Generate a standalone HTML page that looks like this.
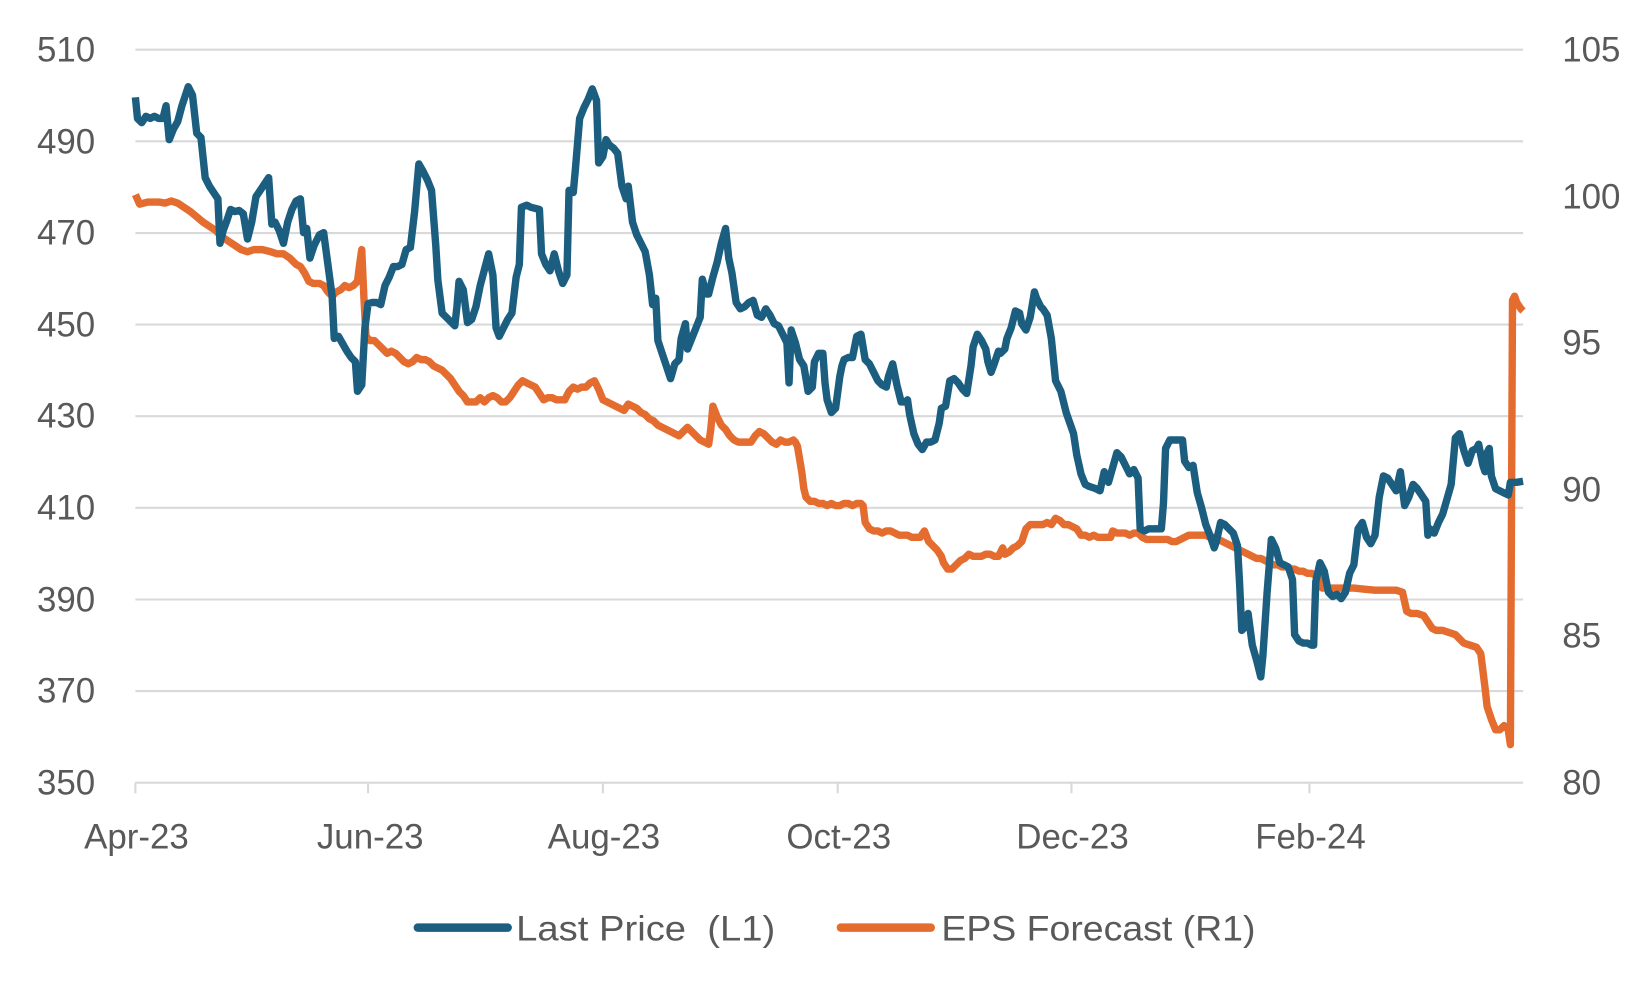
<!DOCTYPE html>
<html><head><meta charset="utf-8"><style>
html,body{margin:0;padding:0;background:#fff;width:1650px;height:990px;overflow:hidden}
svg text{font-family:"Liberation Sans",Arial,sans-serif;fill:#595959;font-size:33px}
</style></head><body>
<svg width="1650" height="990" viewBox="0 0 1560 936" xmlns="http://www.w3.org/2000/svg">
<g stroke="#d9d9d9" stroke-width="2">
<line x1="128" x2="1440" y1="47" y2="47"/><line x1="128" x2="1440" y1="133.6" y2="133.6"/>
<line x1="128" x2="1440" y1="220.3" y2="220.3"/><line x1="128" x2="1440" y1="306.9" y2="306.9"/>
<line x1="128" x2="1440" y1="393.5" y2="393.5"/><line x1="128" x2="1440" y1="480.1" y2="480.1"/>
<line x1="128" x2="1440" y1="566.8" y2="566.8"/><line x1="128" x2="1440" y1="653.4" y2="653.4"/>
<line x1="128" x2="1440" y1="740" y2="740"/>
<line x1="128" x2="128" y1="740" y2="750"/><line x1="348" x2="348" y1="740" y2="750"/>
<line x1="570" x2="570" y1="740" y2="750"/><line x1="792" x2="792" y1="740" y2="750"/>
<line x1="1013" x2="1013" y1="740" y2="750"/><line x1="1238" x2="1238" y1="740" y2="750"/>
</g>
<g text-anchor="end">
<text x="90" y="58">510</text><text x="90" y="145">490</text><text x="90" y="231">470</text>
<text x="90" y="318">450</text><text x="90" y="404">430</text><text x="90" y="491">410</text>
<text x="90" y="578">390</text><text x="90" y="664">370</text><text x="90" y="751">350</text>
</g>
<g>
<text x="1477" y="58">105</text><text x="1477" y="197">100</text><text x="1477" y="335">95</text>
<text x="1477" y="474">90</text><text x="1477" y="612">85</text><text x="1477" y="751">80</text>
</g>
<g text-anchor="middle">
<text x="129" y="802">Apr-23</text><text x="350" y="802">Jun-23</text><text x="571" y="802">Aug-23</text>
<text x="793" y="802">Oct-23</text><text x="1014" y="802">Dec-23</text><text x="1239" y="802">Feb-24</text>
</g>
<polyline fill="none" stroke="#e46c2f" stroke-width="7" stroke-linejoin="round" points="128,184 132,193 136,192 140,191 150,191 156,192 162,190 168,192 174,196 180,200 186,205 192,210 198,214 204,218 210,224 216,228 222,232 228,236 234,238 240,236 248,236 256,238 262,240 268,240 274,244 280,250 284,252 288,258 292,266 296,268 302,268 306,270 310,276 314,280 318,276 322,274 326,270 330,272 334,270 338,266 340,250 342,236 344,280 346,318 350,322 354,322 358,326 362,330 366,334 370,332 374,334 378,338 382,342 386,344 390,342 394,338 398,340 402,340 406,342 410,346 414,348 418,350 422,354 426,358 430,364 434,370 438,374 442,380 446,380 450,380 454,376 458,380 462,376 466,374 470,376 474,380 478,380 482,376 486,370 490,364 494,360 498,362 502,364 506,366 510,372 514,378 518,376 522,376 526,378 530,378 534,378 538,370 542,366 546,368 550,366 554,366 558,362 562,360 566,368 570,378 574,380 578,382 582,384 586,386 590,388 594,382 598,384 602,386 606,390 610,392 614,396 618,398 622,402 626,404 630,406 634,408 638,410 642,412 646,408 650,404 654,408 658,412 662,416 666,418 670,420 672,406 674,384 678,394 682,402 686,406 690,412 694,416 698,418 702,418 706,418 710,418 714,412 718,408 722,410 726,414 730,418 734,420 738,416 742,418 746,418 750,416 752,418 754,422 758,446 760,462 762,470 766,474 770,474 774,476 778,476 782,478 786,476 790,478 794,478 798,476 802,476 806,478 810,476 814,476 816,478 818,494 822,500 826,502 830,502 834,504 838,502 842,502 846,504 850,506 854,506 858,506 862,508 866,508 870,508 874,502 878,512 882,516 886,520 890,526 892,532 896,538 900,538 904,534 908,530 912,528 916,524 920,526 924,526 928,526 932,524 936,524 940,526 944,526 948,518 950,524 954,522 958,518 962,516 966,512 970,500 974,496 978,496 982,496 986,496 990,494 994,496 998,490 1002,492 1006,496 1010,496 1014,498 1018,500 1022,506 1026,506 1030,508 1034,506 1038,508 1042,508 1046,508 1050,508 1052,502 1056,504 1060,504 1064,504 1068,506 1072,504 1076,504 1080,508 1084,510 1088,510 1092,510 1096,510 1100,510 1104,510 1108,512 1112,512 1116,510 1120,508 1124,506 1128,506 1132,506 1136,506 1140,506 1144,508 1148,508 1152,510 1156,512 1160,514 1164,516 1168,518 1172,520 1176,522 1180,524 1184,526 1188,528 1192,528 1196,530 1200,532 1204,534 1208,534 1212,536 1216,536 1220,538 1224,538 1228,540 1232,540 1236,542 1240,542 1244,544 1248,544 1250,556 1254,556 1260,556 1270,556 1280,556 1290,557 1300,558 1310,558 1320,558 1326,560 1330,578 1334,580 1340,580 1346,582 1350,588 1354,594 1358,596 1364,596 1370,598 1376,600 1380,604 1384,608 1390,610 1396,612 1400,618 1404,650 1406,668 1410,680 1414,690 1418,690 1422,686 1426,690 1428,704 1430,284 1432,280 1434,286 1438,292 1440,294"/>
<polyline fill="none" stroke="#1b5e80" stroke-width="7" stroke-linejoin="round" points="128,92 130,112 134,116 138,110 142,112 146,110 150,112 154,112 157,100 160,132 164,122 168,115 172,100 178,82 182,90 186,126 190,130 194,168 198,176 202,182 206,188 208,230 211,218 214,210 218,198 222,200 226,199 230,202 234,226 238,210 242,186 246,180 250,174 254,168 257,212 260,210 264,218 268,230 272,210 276,198 280,190 284,188 287,220 290,216 293,244 297,232 302,222 306,220 310,250 314,280 316,320 320,318 324,325 328,332 332,338 336,342 338,370 342,364 345,310 348,287 352,286 356,286 360,288 364,270 368,262 372,252 376,252 380,250 384,236 388,234 392,200 396,155 400,162 404,170 408,180 412,232 414,265 418,296 422,300 426,304 430,308 432,290 434,266 438,274 442,305 446,302 450,290 454,270 458,255 462,240 466,260 469,310 472,318 476,310 480,302 484,296 488,262 491,250 493,196 498,194 502,196 506,197 510,198 512,240 516,250 520,256 524,240 528,256 532,268 536,260 538,180 542,182 544,160 548,112 552,102 556,94 560,84 564,95 566,154 570,148 573,132 576,137 580,140 584,145 588,176 592,188 594,176 598,210 602,222 606,230 610,238 614,260 617,288 620,282 622,322 626,334 630,346 634,358 638,344 642,340 644,320 648,306 650,330 654,320 658,310 662,300 664,264 668,278 670,278 674,262 678,248 682,230 686,216 689,244 692,258 696,286 700,292 704,290 708,286 712,284 716,298 720,300 724,292 728,298 732,306 736,308 740,316 744,324 746,362 748,312 752,324 756,340 760,346 764,370 766,368 768,366 770,342 774,334 778,334 780,362 782,378 786,390 790,386 794,356 796,346 798,340 802,338 806,338 810,318 814,316 818,340 822,344 826,352 830,360 834,364 838,366 840,356 844,344 848,364 852,380 856,380 858,378 860,392 864,410 868,420 872,425 876,418 880,418 884,416 888,400 890,386 894,384 898,360 902,358 906,362 910,368 914,372 918,346 920,328 924,316 928,322 932,330 934,342 937,352 940,344 944,332 946,334 950,330 952,320 956,310 960,294 964,296 966,306 970,312 974,300 978,276 980,282 982,286 984,290 986,292 990,298 994,320 998,360 1003,370 1008,390 1015,410 1018,430 1022,448 1026,458 1030,460 1036,462 1040,464 1044,446 1048,456 1052,442 1056,428 1060,432 1064,440 1068,448 1072,444 1076,452 1078,500 1082,502 1086,500 1090,500 1094,500 1098,500 1100,476 1102,424 1106,416 1110,416 1114,416 1118,416 1120,436 1124,442 1128,440 1132,466 1136,480 1140,496 1144,506 1148,518 1150,512 1154,494 1158,496 1162,500 1166,504 1170,516 1172,552 1174,596 1176,594 1180,580 1184,610 1188,624 1192,640 1194,620 1198,560 1202,510 1206,518 1210,532 1214,534 1218,536 1222,548 1224,600 1228,606 1232,608 1236,608 1240,610 1242,610 1244,550 1248,532 1252,540 1256,560 1260,564 1264,562 1268,566 1272,560 1276,542 1280,534 1284,500 1288,494 1292,508 1296,514 1300,506 1304,470 1308,450 1312,452 1316,458 1320,464 1324,446 1326,462 1328,478 1332,470 1336,458 1340,462 1344,468 1348,474 1350,506 1352,500 1356,504 1360,494 1364,486 1368,472 1372,458 1376,414 1380,410 1384,426 1388,438 1392,426 1396,424 1398,420 1402,440 1404,446 1406,428 1408,424 1410,450 1414,462 1418,464 1422,466 1426,468 1428,456 1430,456 1434,456 1440,455"/>
<line x1="395" x2="480" y1="877" y2="877" stroke="#1b5e80" stroke-width="8" stroke-linecap="round"/>
<text x="488" y="889" textLength="245" lengthAdjust="spacingAndGlyphs" xml:space="preserve">Last Price  (L1)</text>
<line x1="795" x2="880" y1="877" y2="877" stroke="#e46c2f" stroke-width="8" stroke-linecap="round"/>
<text x="890" y="889" textLength="297" lengthAdjust="spacingAndGlyphs">EPS Forecast (R1)</text>
</svg>
</body></html>
